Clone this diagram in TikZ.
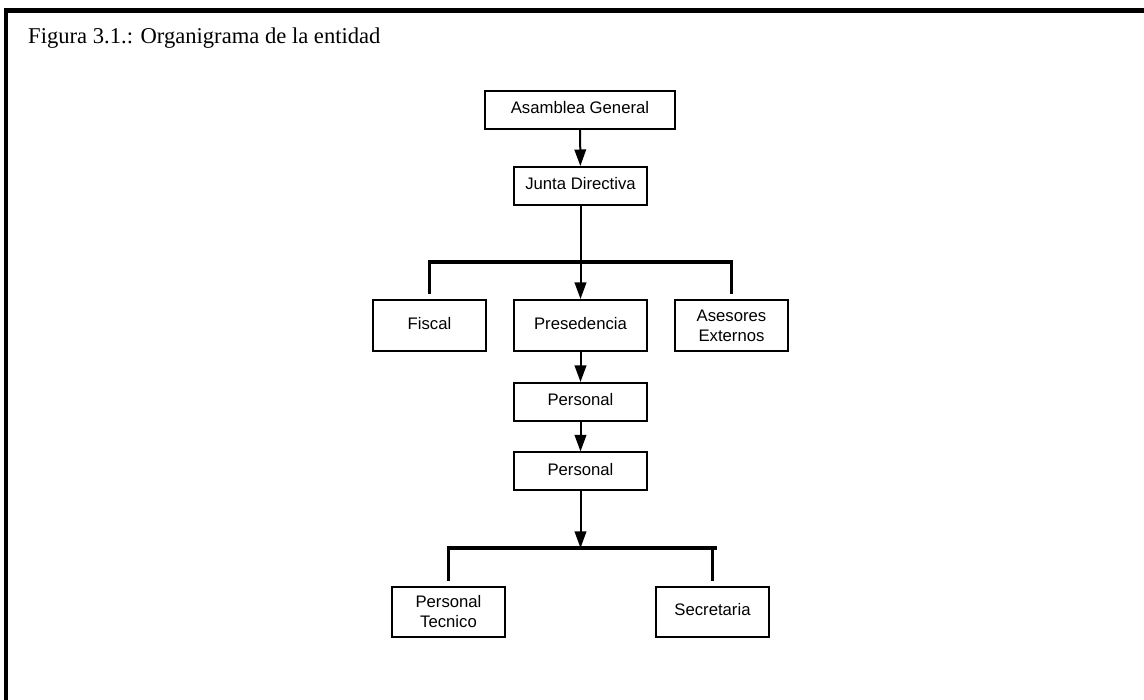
\documentclass[tikz,border=0pt]{standalone}
\usepackage{fontspec}
\setmainfont{Liberation Serif}
\newfontfamily\boxfont{Liberation Sans}
\usetikzlibrary{arrows.meta}
\begin{document}
\begin{tikzpicture}[x=1pt,y=-1pt,
  basebox/.style={draw,line width=2pt,inner sep=0pt,align=center,
    font=\boxfont\fontsize{16.7}{20}\selectfont},
  orgbox/.style={basebox,minimum height=38pt,text height=12.5pt,text depth=4.5pt},
  tallbox/.style={basebox,minimum height=51pt},
  arr/.style={line width=2pt,-{Triangle[length=16.5pt,width=11.5pt]}},
  bar/.style={line width=3.5pt}]
\useasboundingbox (0,0) rectangle (1144,700);
% frame
\draw[line width=5pt] (1144,10.5) -- (4,10.5);
\draw[line width=4pt] (6,8) -- (6,700);
% title
\node[anchor=base west,inner sep=0pt,font=\fontsize{22.6}{26}\selectfont] (title) at (28,43.5) {Figura 3.1.: Organigrama de la entidad};
% nodes
\node[orgbox,minimum width=190pt] (asam) at (580,110) {Asamblea General};
\node[orgbox,minimum width=133pt] (junta) at (580.5,186) {Junta Directiva};
\node[tallbox,minimum width=113pt,text height=12.5pt,text depth=4.5pt] (fiscal) at (429.5,325.5) {Fiscal};
\node[tallbox,minimum width=133pt,text height=12.5pt,text depth=4.5pt] (pres) at (580.5,325.5) {Presedencia};
\node[tallbox,minimum width=113pt] (ases) at (731.5,325.5) {Asesores\\Externos};
\node[orgbox,minimum width=133pt] (pers1) at (580.5,402) {Personal};
\node[orgbox,minimum width=133pt] (pers2) at (580.5,471.5) {Personal};
\node[tallbox,minimum width=113pt,minimum height=50pt] (tec) at (448.5,611.7) {Personal\\Tecnico};
\node[tallbox,minimum width=113pt,minimum height=50pt,text height=12.5pt,text depth=4.5pt] (sec) at (712.5,611.7) {Secretaria};
% connectors
\coordinate (j1) at (580.5,262);
\coordinate (j2) at (580.5,548);
\draw[arr] (asam) -- (junta);
\draw[arr] (junta) -- (pres);
\draw[bar] ([yshift=5pt]fiscal.north) |- (j1) -| ([yshift=5pt]ases.north);
\draw[arr] (pres) -- (pers1);
\draw[arr] (pers1) -- (pers2);
\draw[arr] (pers2) -- (j2);
\draw[bar] ([yshift=5pt]tec.north) |- (j2) -| ([yshift=5pt]sec.north);
\coordinate (j3) at (j2 -| sec.north);
\draw[bar] (j3) -- ++(4,0);
\end{tikzpicture}
\end{document}
